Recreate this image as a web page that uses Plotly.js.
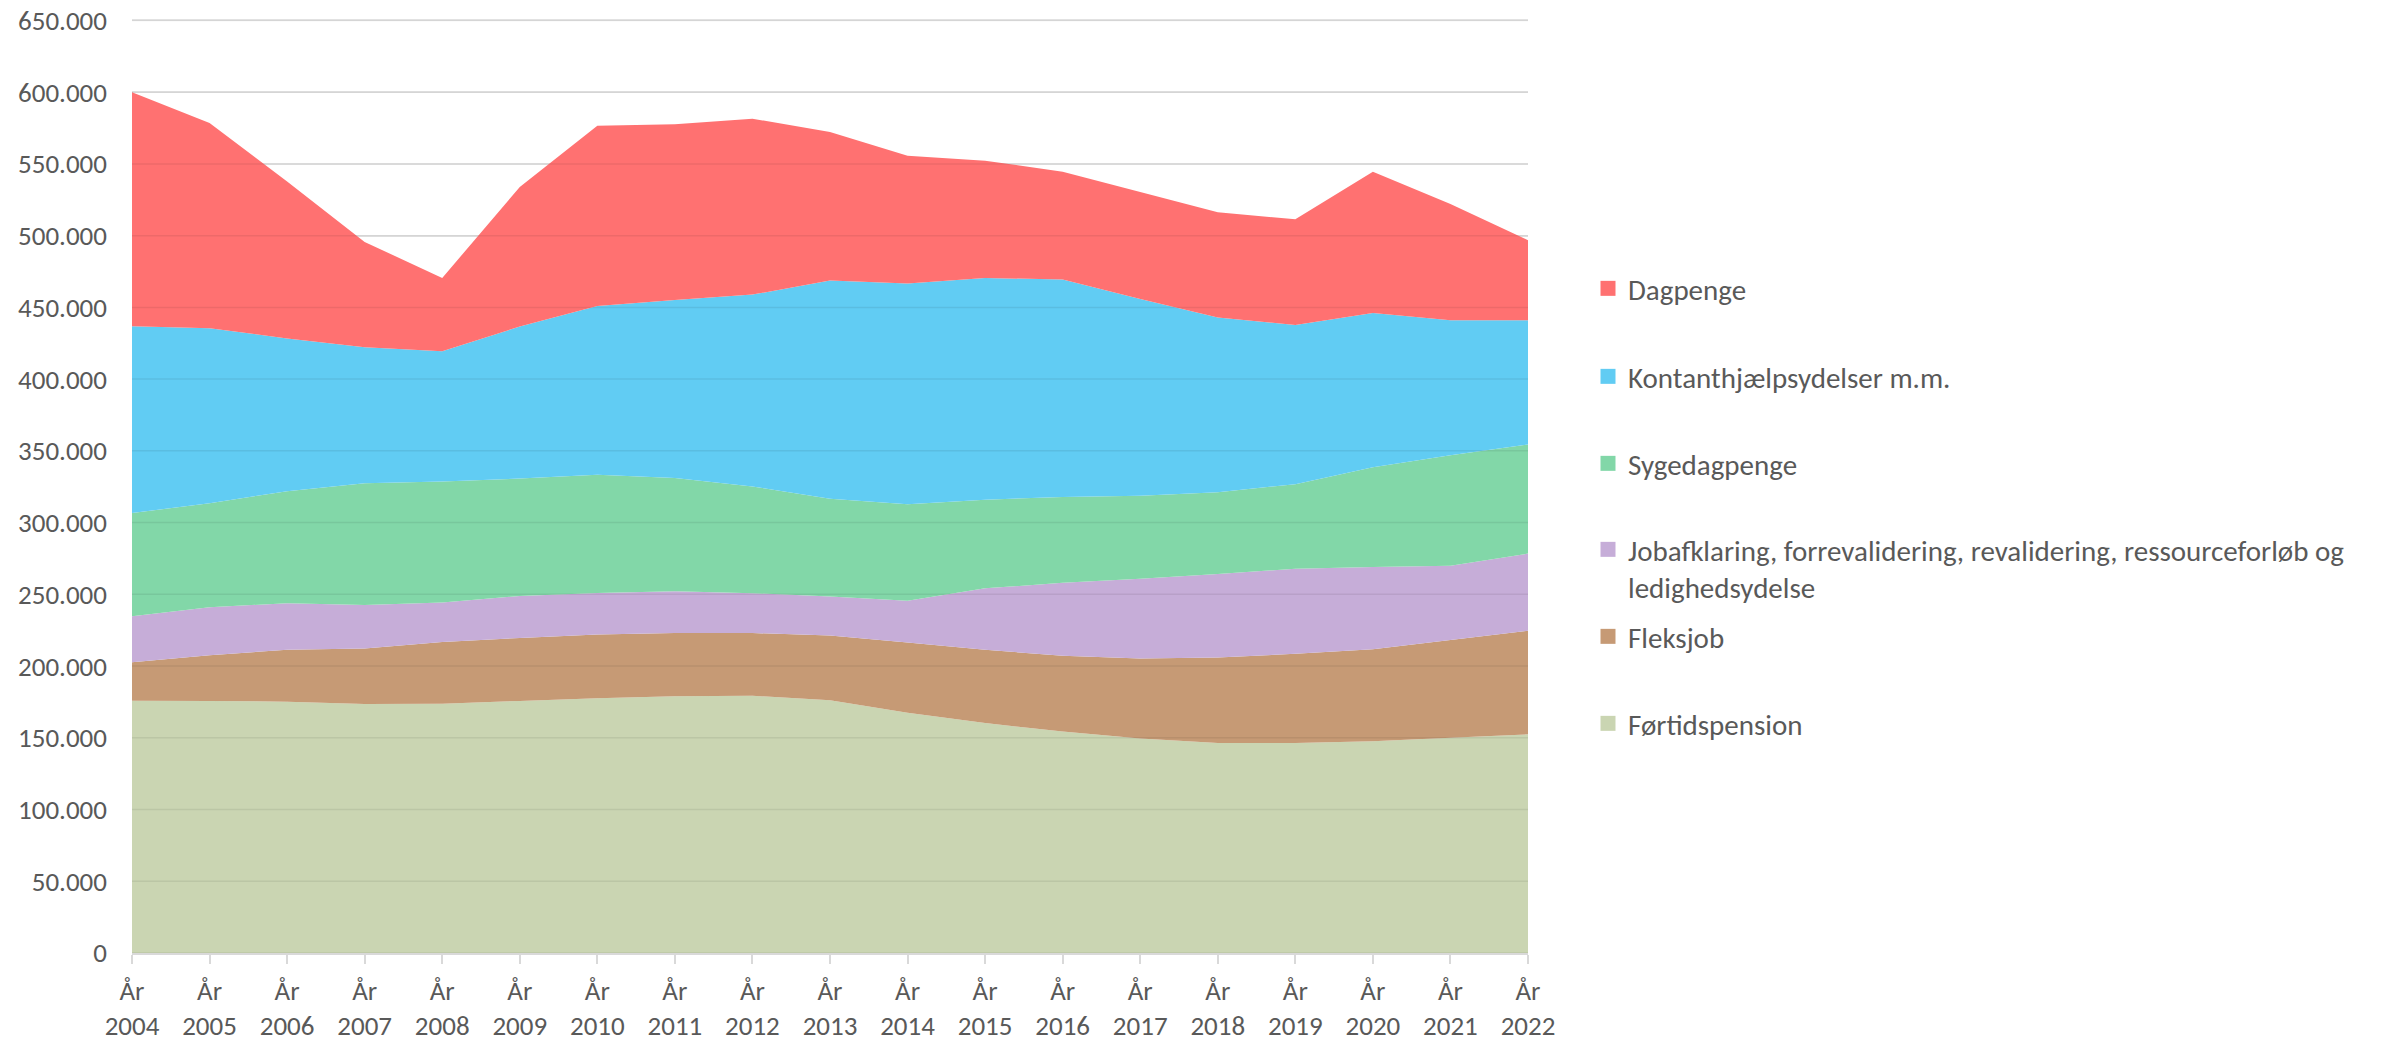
<!DOCTYPE html>
<html>
<head>
<meta charset="utf-8">
<script src="https://cdn.plot.ly/plotly-3.0.1.min.js"></script>
<style>
  html, body { margin: 0; padding: 0; background: #ffffff; }
  #chart { width: 2384px; height: 1041px; }
</style>
</head>
<body>
<div id="chart"></div>
<script>
// ---- Data ----
const years = [2004, 2005, 2006, 2007, 2008, 2009, 2010, 2011, 2012, 2013, 2014, 2015, 2016, 2017, 2018, 2019, 2020, 2021, 2022];
const tickLabels = years.map(y => 'År<br>' + y);

const fortidspension = [175900, 175700, 175200, 173500, 173800, 175700, 177600, 179000, 179300, 176200, 167500, 160300, 154300, 149500, 146400, 146400, 147600, 150000, 152400];
const fleksjob       = [26700, 31900, 36200, 38700, 42900, 43900, 44400, 44000, 43700, 45100, 49000, 51100, 52800, 55700, 59500, 62200, 64100, 68200, 72200];
const jobafklaring   = [32100, 33400, 32400, 30400, 27600, 29300, 29000, 29200, 27800, 27100, 29000, 42800, 50900, 55700, 58300, 59200, 57300, 51800, 53800];
const sygedagpenge   = [72000, 72400, 78100, 84900, 84300, 81800, 82300, 78800, 74400, 68200, 67200, 61800, 59800, 57800, 57000, 59000, 69600, 77000, 76000];
const kontanthjaelp  = [130100, 122100, 106400, 94700, 90800, 105900, 117700, 124200, 133700, 152100, 153900, 154500, 151600, 137200, 121700, 111000, 107500, 94000, 86600];
const dagpenge       = [163200, 143000, 109500, 73400, 51100, 97300, 125600, 122400, 122600, 103500, 89100, 81700, 75200, 74500, 73400, 73600, 98500, 81100, 55800];

const seriesNames = [
  'Førtidspension',
  'Fleksjob',
  'Jobafklaring, forrevalidering, revalidering, ressourceforløb og<br>ledighedsydelse',
  'Sygedagpenge',
  'Kontanthjælpsydelser m.m.',
  'Dagpenge'
];
const seriesValues = [fortidspension, fleksjob, jobafklaring, sygedagpenge, kontanthjaelp, dagpenge];
const seriesColors = ['#CAD5B2', '#C69A75', '#C6ADD8', '#82D7A8', '#61CCF3', '#FF7171'];
// one legend box per entry (reference legend rows are evenly spaced)
const seriesLegend = ['legend6', 'legend5', 'legend4', 'legend3', 'legend2', 'legend'];
const legendRowCenters = [724, 637, 550, 464, 377, 289]; // px from top, per series

const FONT = 'Carlito, Calibri, Lato, sans-serif';
const TEXT = '#595959';

const traces = [];
// stacked areas
seriesValues.forEach((vals, i) => {
  traces.push({
    type: 'scatter',
    x: years,
    y: vals,
    stackgroup: 'one',
    mode: 'none',
    fillcolor: seriesColors[i],
    name: seriesNames[i],
    legendgroup: 'g' + i,
    legend: seriesLegend[i],
    showlegend: false,
    hoverinfo: 'x+y+name'
  });
});
// legend swatches (square markers, like the reference legend)
seriesValues.forEach((vals, i) => {
  traces.push({
    type: 'scatter',
    x: [null],
    y: [null],
    mode: 'markers',
    marker: { symbol: 'square', size: 15, color: seriesColors[i] },
    name: seriesNames[i],
    legendgroup: 'g' + i,
    legend: seriesLegend[i],
    showlegend: true,
    hoverinfo: 'skip'
  });
});

// gridlines drawn over the fills
const gridShapes = [];
for (let v = 0; v <= 650000; v += 50000) {
  gridShapes.push({
    type: 'line', xref: 'paper', x0: 0, x1: 1, yref: 'y', y0: v, y1: v,
    line: { color: 'rgba(0,0,0,0.07)', width: 1.5 },
    layer: 'above'
  });
}

const legendCommon = {
  xref: 'container', yref: 'container',
  xanchor: 'left', yanchor: 'top',
  x: 1588 / 2384,
  bgcolor: 'rgba(0,0,0,0)',
  borderwidth: 0,
  font: { family: FONT, size: 29, color: TEXT },
  valign: 'top'
};

const layout = {
  width: 2384,
  height: 1041,
  paper_bgcolor: '#ffffff',
  plot_bgcolor: '#ffffff',
  separators: ',.',
  margin: { l: 132, r: 856, t: 19, b: 88, pad: 0 },
  font: { family: FONT, size: 27, color: TEXT },
  showlegend: true,
  xaxis: {
    type: 'linear',
    range: [2004, 2022],
    tickmode: 'array',
    tickvals: years,
    ticktext: tickLabels,
    ticks: 'outside',
    ticklen: 9,
    tickwidth: 1.5,
    tickcolor: '#D9D9D9',
    showline: true,
    linecolor: '#D9D9D9',
    linewidth: 1.5,
    showgrid: false,
    zeroline: false,
    tickfont: { family: FONT, size: 27, color: TEXT },
    ticklabelstandoff: 4,
    fixedrange: true
  },
  yaxis: {
    range: [0, 651000],
    dtick: 50000,
    tick0: 0,
    tickformat: ',d',
    showgrid: true,
    gridcolor: '#E6E6E6',
    gridwidth: 1.5,
    zeroline: false,
    showline: false,
    ticks: '',
    tickfont: { family: FONT, size: 27, color: TEXT },
    ticklabelstandoff: 24,
    fixedrange: true
  },
  shapes: gridShapes
};

seriesLegend.forEach((key, i) => {
  layout[key] = Object.assign({}, legendCommon, { y: 1 - (legendRowCenters[i] - 26) / 1041 });
});

Plotly.newPlot('chart', traces, layout, { displayModeBar: false, responsive: false });
</script>
</body>
</html>
